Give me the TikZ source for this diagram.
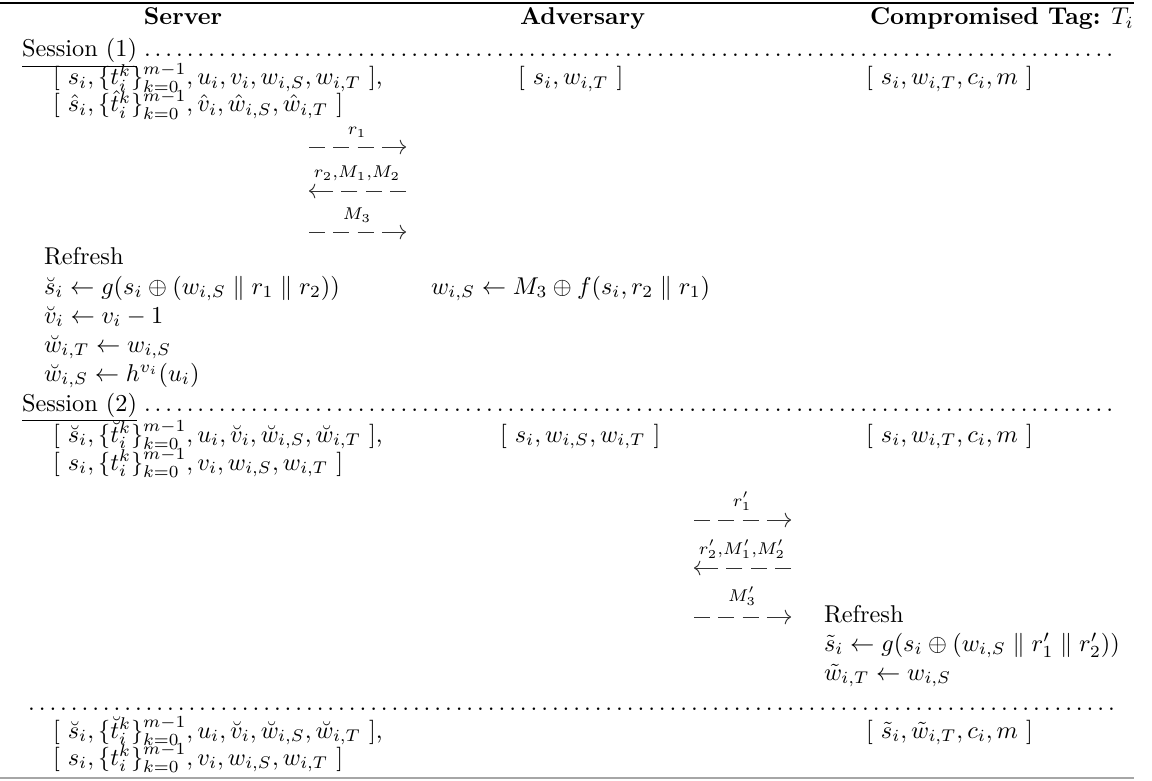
\documentclass[tikz,border=0pt]{standalone}
\usepackage{amsmath,amssymb}
\usetikzlibrary{arrows.meta}
\begin{document}
\begin{tikzpicture}[x=0.41152pt,y=-0.41152pt,
  txt/.style={anchor=base west,inner sep=0pt,outer sep=0pt},
  ctr/.style={anchor=base,inner sep=0pt,outer sep=0pt},
  dts/.style={anchor=base east,inner sep=0pt,outer sep=0pt},
  msg/.style={draw=black!80,line width=0.4pt,
    dash pattern=on 6.6pt off 3.4pt on 6.6pt off 3.4pt on 6.6pt off 3.4pt on 20pt off 0pt,
    -{Computer Modern Rightarrow[length=2.6pt,width=6pt]}},
  rulel/.style={draw=black,line width=0.8pt},
  ruleb/.style={draw=black!35,line width=0.6pt}]
\useasboundingbox (0,0) rectangle (1152,780);
% rules
\coordinate (tl) at (0,3); \coordinate (tr) at (1134,3);
\coordinate (bl) at (0,778); \coordinate (br) at (1134,778);
\draw[rulel] (tl) -- (tr);
\draw[ruleb] (bl) -- (br);
% headers
\node[ctr,font=\bfseries] (hS) at (183,25) {Server};
\node[txt,font=\bfseries] (hA) at (520,25) {Adversary};
\node[txt] (hT) at (870,25) {\textbf{Compromised Tag:} $T_i$};
% session 1
\node[txt] (s1) at (22,57) {\underline{Session (1)}};
\node[dts] (d1) at (1117,57) {\makebox[402pt]{\dotfill}};
\node[txt] (sv1a) at (53,85) {$[\ s_i, \{t_i^k\}_{k=0}^{m-1}, u_i, v_i, w_{i,S}, w_{i,T}\ ]$,};
\node[txt] (sv1b) at (53,112) {$[\ \hat{s}_i, \{\hat{t}_i^k\}_{k=0}^{m-1}, \hat{v}_i, \hat{w}_{i,S}, \hat{w}_{i,T}\ ]$};
\node[txt] (ad1) at (518,85) {$[\ s_i, w_{i,T}\ ]$};
\node[txt] (tg1) at (866,85) {$[\ s_i, w_{i,T}, c_i, m\ ]$};
% messages session 1
\coordinate (m1s) at (309,147); \coordinate (m1e) at (406,147);
\coordinate (m2s) at (406,191); \coordinate (m2e) at (309,191);
\coordinate (m3s) at (309,232); \coordinate (m3e) at (406,232);
\draw[msg] (m1s) -- (m1e);
\draw[msg] (m2s) -- (m2e);
\draw[msg] (m3s) -- (m3e);
\node[ctr] (l1) at (357,135) {$\scriptstyle r_1$};
\node[ctr] (l2) at (357,178) {$\scriptstyle r_2,M_1,M_2$};
\node[ctr] (l3) at (357,220) {$\scriptstyle M_3$};
% refresh server
\node[txt] (rf1) at (44,265) {Refresh};
\node[txt] (e1) at (44,294) {$\breve{s}_i \leftarrow g(s_i \oplus (w_{i,S} \parallel r_1 \parallel r_2))$};
\node[txt] (e2) at (44,323) {$\breve{v}_i \leftarrow v_i - 1$};
\node[txt] (e3) at (44,352) {$\breve{w}_{i,T} \leftarrow w_{i,S}$};
\node[txt] (e4) at (44,381) {$\breve{w}_{i,S} \leftarrow h^{v_i}(u_i)$};
\node[txt] (ea) at (431,294) {$w_{i,S} \leftarrow M_3 \oplus f(s_i, r_2 \parallel r_1)$};
% session 2
\node[txt] (s2) at (22,411) {\underline{Session (2)}};
\node[dts] (d2) at (1117,411) {\makebox[402pt]{\dotfill}};
\node[txt] (sv2a) at (53,442) {$[\ \breve{s}_i, \{\breve{t}_i^k\}_{k=0}^{m-1}, u_i, \breve{v}_i, \breve{w}_{i,S}, \breve{w}_{i,T}\ ]$,};
\node[txt] (sv2b) at (53,470) {$[\ s_i, \{t_i^k\}_{k=0}^{m-1}, v_i, w_{i,S}, w_{i,T}\ ]$};
\node[txt] (ad2) at (500,442) {$[\ s_i, w_{i,S}, w_{i,T}\ ]$};
\node[txt] (tg2) at (866,442) {$[\ s_i, w_{i,T}, c_i, m\ ]$};
% messages session 2
\coordinate (n1s) at (694,520); \coordinate (n1e) at (791,520);
\coordinate (n2s) at (791,568); \coordinate (n2e) at (694,568);
\coordinate (n3s) at (694,617); \coordinate (n3e) at (791,617);
\draw[msg] (n1s) -- (n1e);
\draw[msg] (n2s) -- (n2e);
\draw[msg] (n3s) -- (n3e);
\node[ctr] (k1) at (742,506) {$\scriptstyle r'_1$};
\node[ctr] (k2) at (742,554) {$\scriptstyle r'_2,M'_1,M'_2$};
\node[ctr] (k3) at (742,601) {$\scriptstyle M'_3$};
% refresh tag
\node[txt] (rf2) at (824,622) {Refresh};
\node[txt] (f1) at (824,651) {$\tilde{s}_i \leftarrow g(s_i \oplus (w_{i,S} \parallel r'_1 \parallel r'_2))$};
\node[txt] (f2) at (824,680) {$\tilde{w}_{i,T} \leftarrow w_{i,S}$};
% final
\node[dts] (d3) at (1117,710) {\makebox[449pt]{\dotfill}};
\node[txt] (sv3a) at (53,738) {$[\ \breve{s}_i, \{\breve{t}_i^k\}_{k=0}^{m-1}, u_i, \breve{v}_i, \breve{w}_{i,S}, \breve{w}_{i,T}\ ]$,};
\node[txt] (sv3b) at (53,765) {$[\ s_i, \{t_i^k\}_{k=0}^{m-1}, v_i, w_{i,S}, w_{i,T}\ ]$};
\node[txt] (tg3) at (866,738) {$[\ \tilde{s}_i, \tilde{w}_{i,T}, c_i, m\ ]$};
\end{tikzpicture}
\end{document}
